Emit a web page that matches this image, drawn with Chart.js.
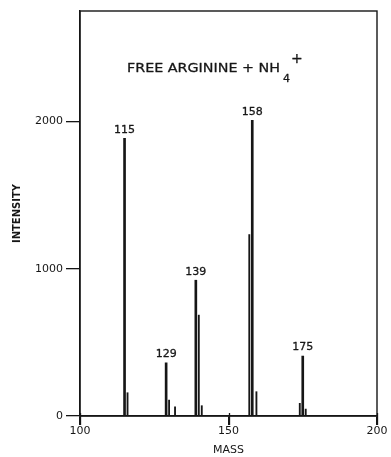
<!DOCTYPE html>
<html><head><meta charset="utf-8">
<script src="https://cdn.jsdelivr.net/npm/chart.js@4/dist/chart.umd.min.js"></script>
<style>html,body{margin:0;padding:0;background:#fff}#wrap{width:391px;height:457px}</style>
</head><body><div id="wrap"><canvas id="c" width="391" height="457"></canvas></div>
<script>
// ---- data ----
const titleMain = "FREE ARGININE + NH";
const titleSub = "4";
const titleSup = "+";
const xAxisTitle = "MASS";
const yAxisTitle = "INTENSITY";
const masses      = [115, 116, 129, 130, 132, 139, 140, 141, 157, 158, 159.4, 174, 175, 176];
const intensities = [1885, 158, 361, 108, 63, 922, 685, 70, 1232, 2007, 165, 86, 407, 47];
const majorMasses = [115, 129, 139, 158, 175];
const peakLabels  = ["115", "129", "139", "158", "175"];
const xTicks = [100, 150, 200];
const yTicks = [0, 1000, 2000];
const xMin = 100, xMax = 200, yMin = 0, yMax = 2750;

const INK = '#161616';
const FONT = "'DejaVu Sans', sans-serif";

const majorData = [], minorData = [];
masses.forEach((m, i) => {
  (majorMasses.includes(m) ? majorData : minorData).push({x: m, y: intensities[i]});
});

function boldText(ctx, t, x, y, lw) {
  ctx.lineWidth = lw; ctx.strokeStyle = INK; ctx.lineJoin = 'round';
  ctx.strokeText(t, x, y);
  ctx.fillText(t, x, y);
}

const framePlugin = {
  id: 'frame',
  afterDatasetsDraw(chart) {
    const a = chart.chartArea, ctx = chart.ctx, xs = chart.scales.x;
    ctx.save();
    ctx.strokeStyle = INK; ctx.lineWidth = 1.4;
    ctx.strokeRect(a.left, a.top, a.right - a.left, a.bottom - a.top);
    // x tick marks hanging below the axis
    ctx.lineWidth = 1.3;
    xTicks.forEach(v => {
      const px = Math.round(xs.getPixelForValue(v)) + 0.5;
      ctx.beginPath(); ctx.moveTo(px, a.bottom - 3); ctx.lineTo(px, a.bottom + 9); ctx.stroke();
    });
    ctx.restore();
  }
};

const peakLabelPlugin = {
  id: 'peakLabels',
  afterDatasetsDraw(chart) {
    const ctx = chart.ctx, xs = chart.scales.x, ys = chart.scales.y;
    ctx.save();
    ctx.fillStyle = INK;
    ctx.font = "11px " + FONT;
    ctx.textAlign = 'center';
    ctx.textBaseline = 'bottom';
    majorMasses.forEach((m, i) => {
      const v = intensities[masses.indexOf(m)];
      boldText(ctx, peakLabels[i], xs.getPixelForValue(m), ys.getPixelForValue(v) - 3, 0.3);
    });
    ctx.restore();
  }
};

const titlePlugin = {
  id: 'innerTitle',
  afterDraw(chart) {
    const ctx = chart.ctx, a = chart.chartArea;
    ctx.save();
    ctx.fillStyle = INK;
    ctx.textBaseline = 'alphabetic';
    ctx.textAlign = 'left';
    const x0 = a.left + 47, y0 = 72;
    ctx.font = "13px " + FONT;
    const w = ctx.measureText(titleMain).width;
    const sx = 153 / w;
    ctx.save();
    ctx.translate(x0, y0);
    ctx.scale(sx, 1);
    boldText(ctx, titleMain, 0, 0, 0.3);
    ctx.restore();
    const xe = x0 + w * sx;
    ctx.font = "11px " + FONT;
    boldText(ctx, titleSub, xe + 3, y0 + 10, 0.3);
    ctx.font = "14px " + FONT;
    boldText(ctx, titleSup, xe + 11, y0 - 9, 0.3);
    ctx.restore();
  }
};

new Chart(document.getElementById('c'), {
  type: 'bar',
  data: {
    datasets: [
      { data: majorData, backgroundColor: INK, borderWidth: 0, barThickness: 2, grouped: false },
      { data: minorData, backgroundColor: INK, borderWidth: 0, barThickness: 1.2, grouped: false }
    ]
  },
  options: {
    responsive: false,
    animation: false,
    devicePixelRatio: 1,
    layout: { padding: { top: 11, right: 14, left: 0, bottom: 0 } },
    plugins: { legend: { display: false }, tooltip: { enabled: false }, title: { display: false } },
    scales: {
      x: {
        type: 'linear', min: xMin, max: xMax, offset: false,
        afterBuildTicks: s => { s.ticks = xTicks.map(v => ({ value: v })); },
        afterFit: s => { s.height = 41; },
        ticks: { color: INK, font: { family: FONT, size: 11 }, padding: 0, maxRotation: 0, autoSkip: false,
                 callback: v => String(v) },
        grid: { drawOnChartArea: false, offset: false, tickLength: 9, color: INK, lineWidth: 1.3 },
        border: { display: true, color: INK, width: 1.4 },
        title: { display: true, text: xAxisTitle, color: INK, font: { family: FONT, size: 11 }, padding: { top: 0, bottom: 0 } }
      },
      y: {
        type: 'linear', min: yMin, max: yMax,
        afterBuildTicks: s => { s.ticks = yTicks.map(v => ({ value: v })); },
        afterFit: s => { s.width = 80; },
        ticks: { color: INK, font: { family: FONT, size: 11 }, padding: 3, autoSkip: false,
                 callback: v => String(v) },
        grid: { drawOnChartArea: false, offset: false, tickLength: 14, color: INK, lineWidth: 1.3 },
        border: { display: true, color: INK, width: 1.4 },
        title: { display: true, text: yAxisTitle, color: INK, font: { family: FONT, size: 10, weight: 'bold' }, padding: { top: 11, bottom: 0 } }
      }
    }
  },
  plugins: [framePlugin, peakLabelPlugin, titlePlugin]
});
</script>
</body></html>
